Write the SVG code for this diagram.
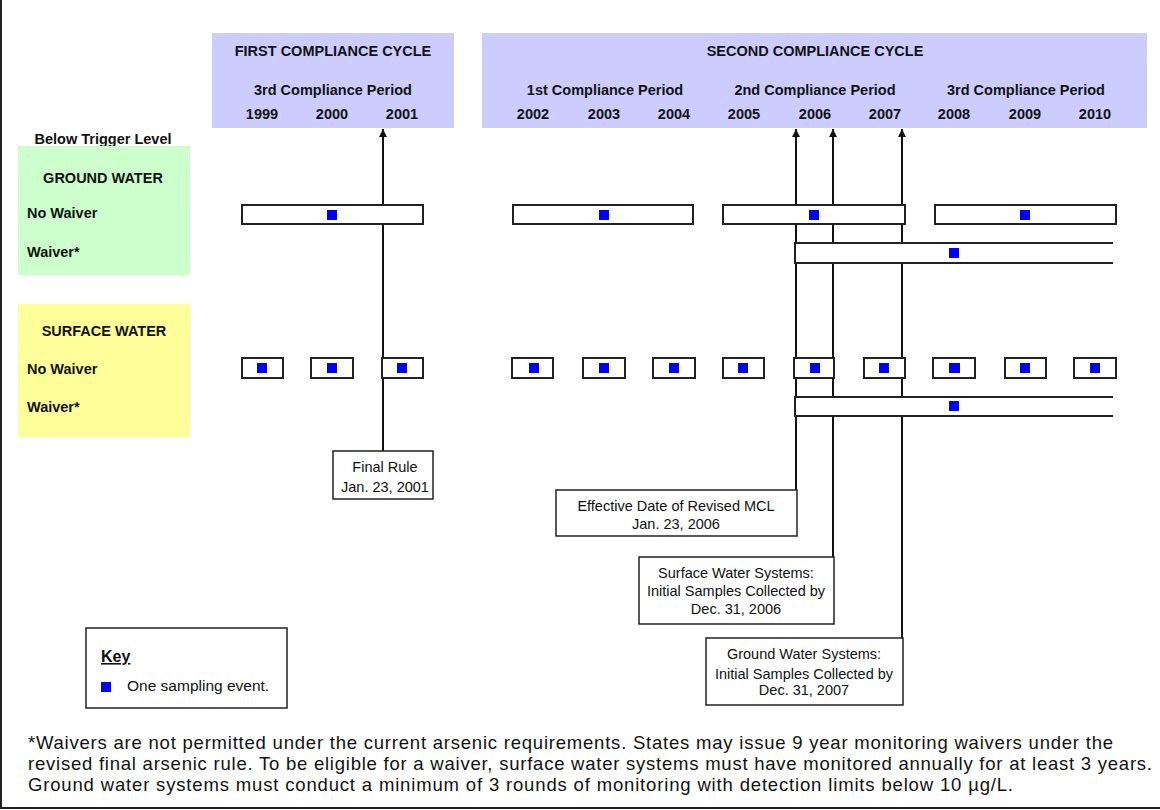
<svg xmlns="http://www.w3.org/2000/svg" width="1160" height="810" viewBox="0 0 1160 810">
<style>
text{font-family:"Liberation Sans",Arial,sans-serif;fill:#111}
.b{font-weight:bold;font-size:14.5px}
.r{font-size:14.5px}
.c{text-anchor:middle}
.hdr{fill:#CCCCFF}
.bar{fill:#fff;stroke:#222;stroke-width:2}
.open{fill:#fff;stroke:none}
.edge{stroke:#222;stroke-width:2;fill:none}
.sq{fill:#0000FF}
.box{fill:#fff;stroke:#222;stroke-width:1.5}
.ln{stroke:#111;stroke-width:2;fill:none}
.foot{font-size:18.5px}
</style>
<defs>
<marker id="ah" viewBox="0 0 10 10" refX="10" refY="5" markerWidth="4" markerHeight="4" orient="auto" markerUnits="strokeWidth">
<path d="M0,0 L10,5 L0,10 z" fill="#111"/>
</marker>
</defs>
<rect x="0" y="0" width="1160" height="810" fill="#fff"/>
<g id="frame">
<line x1="1" y1="0" x2="1" y2="808" class="edge"/>
<line x1="0" y1="808" x2="1160" y2="808" class="edge"/>
</g>
<g id="header-first">
<rect x="212" y="33" width="242" height="95" class="hdr"/>
<text x="333" y="56" class="b c">FIRST COMPLIANCE CYCLE</text>
<text x="333" y="95" class="b c">3rd Compliance Period</text>
<text x="262" y="119" class="b c">1999</text>
<text x="332" y="119" class="b c">2000</text>
<text x="402" y="119" class="b c">2001</text>
</g>
<g id="header-second">
<rect x="482" y="33" width="665" height="95" class="hdr"/>
<text x="815" y="56" class="b c">SECOND COMPLIANCE CYCLE</text>
<text x="605" y="95" class="b c">1st Compliance Period</text>
<text x="815" y="95" class="b c">2nd Compliance Period</text>
<text x="1026" y="95" class="b c">3rd Compliance Period</text>
<text x="533" y="119" class="b c">2002</text>
<text x="604" y="119" class="b c">2003</text>
<text x="674" y="119" class="b c">2004</text>
<text x="744" y="119" class="b c">2005</text>
<text x="815" y="119" class="b c">2006</text>
<text x="885" y="119" class="b c">2007</text>
<text x="954" y="119" class="b c">2008</text>
<text x="1025" y="119" class="b c">2009</text>
<text x="1095" y="119" class="b c">2010</text>
</g>
<text x="103" y="144" class="b c">Below Trigger Level</text>
<g id="ground-water">
<rect x="18" y="146" width="172" height="129" fill="#CCFFCC"/>
<text x="103" y="183" class="b c">GROUND WATER</text>
<text x="27" y="218" class="b">No Waiver</text>
<text x="27" y="257" class="b">Waiver*</text>
</g>
<g id="surface-water">
<rect x="18" y="304" width="172" height="133" fill="#FFFF99"/>
<text x="104" y="336" class="b c">SURFACE WATER</text>
<text x="27" y="374" class="b">No Waiver</text>
<text x="27" y="412" class="b">Waiver*</text>
</g>
<g id="connectors">
<line x1="383" y1="451" x2="383" y2="129" class="ln" marker-end="url(#ah)"/>
<line x1="796" y1="490" x2="796" y2="129" class="ln" marker-end="url(#ah)"/>
<line x1="833" y1="557" x2="833" y2="129" class="ln" marker-end="url(#ah)"/>
<line x1="902" y1="638" x2="902" y2="129" class="ln" marker-end="url(#ah)"/>
</g>
<g id="gw-nowaiver">
<rect x="242" y="205" width="181" height="19" class="bar"/><rect x="327" y="210" width="10" height="10" class="sq"/>
<rect x="513" y="205" width="180" height="19" class="bar"/><rect x="599" y="210" width="10" height="10" class="sq"/>
<rect x="723" y="205" width="182" height="19" class="bar"/><rect x="809" y="210" width="10" height="10" class="sq"/>
<rect x="935" y="205" width="181" height="19" class="bar"/><rect x="1020" y="210" width="10" height="10" class="sq"/>
</g>
<g id="gw-waiver">
<rect x="794" y="243" width="320" height="20" class="open"/>
<path d="M1113,243 H795 V263 H1113" class="edge"/>
<rect x="949" y="248" width="10" height="10" class="sq"/>
</g>
<g id="sw-nowaiver">
<rect x="242" y="358" width="41" height="20" class="bar"/><rect x="257" y="363" width="10" height="10" class="sq"/>
<rect x="311" y="358" width="42" height="20" class="bar"/><rect x="327" y="363" width="10" height="10" class="sq"/>
<rect x="382" y="358" width="41" height="20" class="bar"/><rect x="397" y="363" width="10" height="10" class="sq"/>
<rect x="512" y="358" width="41" height="20" class="bar"/><rect x="529" y="363" width="10" height="10" class="sq"/>
<rect x="583" y="358" width="42" height="20" class="bar"/><rect x="599" y="363" width="10" height="10" class="sq"/>
<rect x="653" y="358" width="42" height="20" class="bar"/><rect x="669" y="363" width="10" height="10" class="sq"/>
<rect x="723" y="358" width="41" height="20" class="bar"/><rect x="738" y="363" width="10" height="10" class="sq"/>
<rect x="794" y="358" width="40" height="20" class="bar"/><rect x="810" y="363" width="10" height="10" class="sq"/>
<rect x="864" y="358" width="41" height="20" class="bar"/><rect x="879" y="363" width="10" height="10" class="sq"/>
<rect x="933" y="358" width="42" height="20" class="bar"/><rect x="949" y="363" width="11" height="10" class="sq"/>
<rect x="1005" y="358" width="41" height="20" class="bar"/><rect x="1020" y="363" width="10" height="10" class="sq"/>
<rect x="1074" y="358" width="42" height="20" class="bar"/><rect x="1090" y="363" width="10" height="10" class="sq"/>
</g>
<g id="sw-waiver">
<rect x="794" y="397" width="320" height="19" class="open"/>
<path d="M1113,397 H795 V416 H1113" class="edge"/>
<rect x="949" y="401" width="10" height="10" class="sq"/>
</g>
<g id="final-rule">
<rect x="333" y="451" width="100" height="48" class="box"/>
<text x="385" y="472" class="r c">Final Rule</text>
<text x="385" y="492" class="r c">Jan. 23, 2001</text>
</g>
<g id="effective-date">
<rect x="556" y="490" width="241" height="46" class="box"/>
<text x="676" y="511" class="r c">Effective Date of Revised MCL</text>
<text x="676" y="529" class="r c">Jan. 23, 2006</text>
</g>
<g id="surface-initial">
<rect x="639" y="557" width="195" height="67" class="box"/>
<text x="736" y="578" class="r c">Surface Water Systems:</text>
<text x="736" y="596" class="r c">Initial Samples Collected by</text>
<text x="736" y="614" class="r c">Dec. 31, 2006</text>
</g>
<g id="ground-initial">
<rect x="706" y="638" width="197" height="67" class="box"/>
<text x="804" y="659" class="r c">Ground Water Systems:</text>
<text x="804" y="679" class="r c">Initial Samples Collected by</text>
<text x="804" y="695" class="r c">Dec. 31, 2007</text>
</g>
<g id="key">
<rect x="86" y="628" width="201" height="80" class="box"/>
<text x="101" y="662" font-size="16" font-weight="bold" text-decoration="underline">Key</text>
<rect x="101" y="682" width="10" height="10" class="sq"/>
<text x="127" y="691" font-size="15.5">One sampling event.</text>
</g>
<g id="footnote">
<text x="28" y="749" class="foot" textLength="1085" lengthAdjust="spacing">*Waivers are not permitted under the current arsenic requirements. States may issue 9 year monitoring waivers under the</text>
<text x="28" y="770" class="foot" textLength="1124" lengthAdjust="spacing">revised final arsenic rule. To be eligible for a waiver, surface water systems must have monitored annually for at least 3 years.</text>
<text x="28" y="791" class="foot" textLength="985" lengthAdjust="spacing">Ground water systems must conduct a minimum of 3 rounds of monitoring with detection limits below 10 µg/L.</text>
</g>
</svg>
